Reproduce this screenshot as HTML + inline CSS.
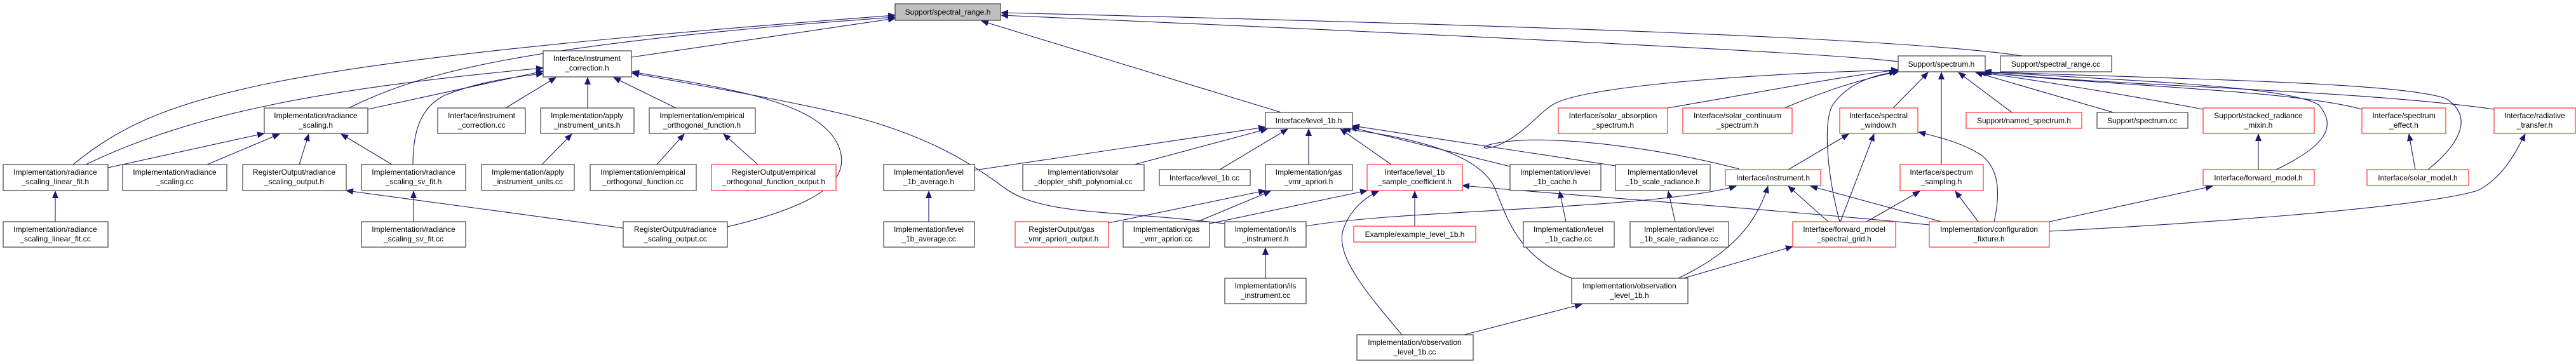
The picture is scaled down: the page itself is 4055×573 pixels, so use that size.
<!DOCTYPE html>
<html><head><meta charset="utf-8"><style>
html,body{margin:0;padding:0;background:#fff;}
svg{display:block;}
text{font-family:"Liberation Sans",sans-serif;font-size:12px;fill:#000;text-anchor:middle;}
.n{fill:#fff;stroke:#404040;stroke-width:1.2;}
.r{fill:#fff;stroke:#ff3030;stroke-width:1.2;}
.g{fill:#bfbfbf;stroke:#404040;stroke-width:1.2;}
path{fill:none;stroke:#191970;stroke-width:1.1;}
</style></head><body>
<svg width="4055" height="573" viewBox="0 0 4055 573" xmlns="http://www.w3.org/2000/svg">
<defs><marker id="a" markerWidth="12" markerHeight="10" refX="11" refY="5" orient="auto" markerUnits="userSpaceOnUse"><polygon points="0,0 12,5 0,10" fill="#191970"/></marker></defs>
<g marker-end="url(#a)">
<path d="M115,259 C250,150 400,100 1409,24"/>
<path d="M135,259 C300,180 500,140 855,107"/>
<path d="M170,264 L416,210"/>
<path d="M549,170 C650,120 800,70 1409,27"/>
<path d="M579,172 L855,112"/>
<path d="M650,259 C650,210 660,170 700,150 C750,130 800,122 855,116"/>
<path d="M326,259 L440,211"/>
<path d="M471,259 L486,211"/>
<path d="M617,259 L537,211"/>
<path d="M87,349 L87,301"/>
<path d="M651,349 L651,301"/>
<path d="M981,359 L545,300"/>
<path d="M1145,357 C1300,320 1340,280 1320,230 C1290,160 1150,140 995,113"/>
<path d="M796,170 L875,122"/>
<path d="M925,170 L925,122"/>
<path d="M1064,170 L966,122"/>
<path d="M853,259 L900,211"/>
<path d="M1034,259 L1077,211"/>
<path d="M1193,259 L1139,211"/>
<path d="M1928,352 C1750,330 1640,340 1580,295 C1520,250 1450,210 1330,180 C1200,150 1100,135 995,115"/>
<path d="M994,90 L1409,29"/>
<path d="M2017,177 L1545,33"/>
<path d="M3183,88 C3000,60 2400,40 1576,20"/>
<path d="M2988,97 C2900,85 2400,60 1576,24"/>
<path d="M1534,268 L1992,200"/>
<path d="M1786,259 L1995,203"/>
<path d="M1920,267 L2027,203"/>
<path d="M2060,259 L2060,203"/>
<path d="M2190,259 L2110,203"/>
<path d="M2377,262 L2125,200"/>
<path d="M2543,261 L2129,198"/>
<path d="M2474,438 C2380,400 2370,330 2350,290 C2320,240 2220,215 2115,203"/>
<path d="M1462,349 L1462,301"/>
<path d="M1745,351 L1992,300"/>
<path d="M1885,349 L2000,301"/>
<path d="M2056,356 C2200,330 2600,330 2733,293"/>
<path d="M1904,352 L2152,300"/>
<path d="M2227,356 L2227,301"/>
<path d="M2207,527 C2150,460 2100,400 2115,360 C2125,330 2150,310 2170,301"/>
<path d="M2305,527 L2490,479"/>
<path d="M3037,354 C2800,330 2500,310 2302,292"/>
<path d="M2465,349 L2455,301"/>
<path d="M2637,349 L2626,301"/>
<path d="M2642,438 C2700,410 2760,370 2783,293"/>
<path d="M2640,441 L2822,388"/>
<path d="M2815,267 L2910,211"/>
<path d="M2738,266 C2600,230 2450,215 2380,222 C2320,228 2330,240 2360,228 C2400,210 2420,180 2444,165 C2480,140 2700,118 2988,110"/>
<path d="M2878,349 L2815,293"/>
<path d="M2897,349 L2950,211"/>
<path d="M2938,349 L3022,301"/>
<path d="M2896,349 C2875,270 2870,190 2885,165 C2910,130 2950,118 2985,113"/>
<path d="M3056,349 L2850,293"/>
<path d="M3114,349 L3078,301"/>
<path d="M3139,349 C3150,300 3145,265 3120,245 C3090,225 3050,215 3020,208"/>
<path d="M3226,349 L3483,293"/>
<path d="M3226,364 C3400,355 3800,330 3900,300 C3940,280 3960,240 3975,211"/>
<path d="M2980,170 L3035,114"/>
<path d="M3056,259 L3056,114"/>
<path d="M3167,177 L3083,114"/>
<path d="M3327,177 L3110,114"/>
<path d="M3468,172 C3350,150 3200,125 3115,114"/>
<path d="M3718,172 C3600,140 3300,135 3118,113"/>
<path d="M3926,172 C3700,140 3300,135 3120,113"/>
<path d="M3583,267 C3660,230 3680,200 3650,165 C3600,135 3350,127 3122,113"/>
<path d="M3822,267 C3880,220 3890,180 3850,155 C3780,130 3450,125 3124,113"/>
<path d="M2625,170 C2800,140 2900,120 2988,110"/>
<path d="M2809,170 C2880,140 2930,125 2990,112"/>
<path d="M3555,267 L3555,211"/>
<path d="M3802,267 L3792,211"/>
<path d="M1992,438 L1992,390"/>
</g>
<g>
<rect class="g" x="1409" y="6" width="166" height="26"/><text x="1492" y="23">Support/spectral_range.h</text>
<rect class="n" x="855" y="80" width="139" height="41"/><text x="924" y="96">Interface/instrument</text><text x="924" y="111">_correction.h</text>
<rect class="n" x="2988" y="88" width="137" height="25"/><text x="3056" y="105">Support/spectrum.h</text>
<rect class="n" x="3149" y="88" width="175" height="25"/><text x="3236" y="105">Support/spectral_range.cc</text>
<rect class="n" x="416" y="170" width="163" height="40"/><text x="497" y="186">Implementation/radiance</text><text x="497" y="201">_scaling.h</text>
<rect class="n" x="689" y="170" width="138" height="40"/><text x="758" y="186">Interface/instrument</text><text x="758" y="201">_correction.cc</text>
<rect class="n" x="851" y="170" width="147" height="40"/><text x="924" y="186">Implementation/apply</text><text x="924" y="201">_instrument_units.h</text>
<rect class="n" x="1022" y="170" width="167" height="40"/><text x="1105" y="186">Implementation/empirical</text><text x="1105" y="201">_orthogonal_function.h</text>
<rect class="n" x="1992" y="177" width="137" height="25"/><text x="2060" y="194">Interface/level_1b.h</text>
<rect class="r" x="2453" y="170" width="172" height="40"/><text x="2539" y="186">Interface/solar_absorption</text><text x="2539" y="201">_spectrum.h</text>
<rect class="r" x="2649" y="170" width="172" height="40"/><text x="2735" y="186">Interface/solar_continuum</text><text x="2735" y="201">_spectrum.h</text>
<rect class="r" x="2896" y="170" width="123" height="40"/><text x="2957" y="186">Interface/spectral</text><text x="2957" y="201">_window.h</text>
<rect class="r" x="3095" y="177" width="182" height="25"/><text x="3186" y="194">Support/named_spectrum.h</text>
<rect class="n" x="3301" y="177" width="143" height="25"/><text x="3372" y="194">Support/spectrum.cc</text>
<rect class="r" x="3468" y="170" width="175" height="40"/><text x="3555" y="186">Support/stacked_radiance</text><text x="3555" y="201">_mixin.h</text>
<rect class="r" x="3718" y="170" width="132" height="40"/><text x="3784" y="186">Interface/spectrum</text><text x="3784" y="201">_effect.h</text>
<rect class="r" x="3926" y="170" width="128" height="40"/><text x="3990" y="186">Interface/radiative</text><text x="3990" y="201">_transfer.h</text>

<rect class="n" x="5" y="259" width="165" height="41"/><text x="87" y="275">Implementation/radiance</text><text x="87" y="290">_scaling_linear_fit.h</text>
<rect class="n" x="193" y="259" width="164" height="41"/><text x="275" y="275">Implementation/radiance</text><text x="275" y="290">_scaling.cc</text>
<rect class="n" x="382" y="259" width="163" height="41"/><text x="463" y="275">RegisterOutput/radiance</text><text x="463" y="290">_scaling_output.h</text>
<rect class="n" x="569" y="259" width="164" height="41"/><text x="651" y="275">Implementation/radiance</text><text x="651" y="290">_scaling_sv_fit.h</text>
<rect class="n" x="758" y="259" width="146" height="41"/><text x="831" y="275">Implementation/apply</text><text x="831" y="290">_instrument_units.cc</text>
<rect class="n" x="929" y="259" width="167" height="41"/><text x="1012" y="275">Implementation/empirical</text><text x="1012" y="290">_orthogonal_function.cc</text>
<rect class="r" x="1120" y="259" width="196" height="41"/><text x="1218" y="275">RegisterOutput/empirical</text><text x="1218" y="290">_orthogonal_function_output.h</text>
<rect class="n" x="1391" y="259" width="143" height="41"/><text x="1462" y="275">Implementation/level</text><text x="1462" y="290">_1b_average.h</text>
<rect class="n" x="1610" y="259" width="191" height="41"/><text x="1705" y="275">Implementation/solar</text><text x="1705" y="290">_doppler_shift_polynomial.cc</text>
<rect class="n" x="1825" y="267" width="143" height="25"/><text x="1896" y="284">Interface/level_1b.cc</text>
<rect class="n" x="1992" y="259" width="137" height="41"/><text x="2060" y="275">Implementation/gas</text><text x="2060" y="290">_vmr_apriori.h</text>
<rect class="r" x="2152" y="259" width="150" height="41"/><text x="2227" y="275">Interface/level_1b</text><text x="2227" y="290">_sample_coefficient.h</text>
<rect class="n" x="2377" y="259" width="143" height="41"/><text x="2448" y="275">Implementation/level</text><text x="2448" y="290">_1b_cache.h</text>
<rect class="n" x="2543" y="259" width="149" height="41"/><text x="2617" y="275">Implementation/level</text><text x="2617" y="290">_1b_scale_radiance.h</text>
<rect class="r" x="2716" y="267" width="150" height="25"/><text x="2791" y="284">Interface/instrument.h</text>
<rect class="r" x="2991" y="259" width="131" height="41"/><text x="3056" y="275">Interface/spectrum</text><text x="3056" y="290">_sampling.h</text>
<rect class="r" x="3468" y="267" width="175" height="25"/><text x="3555" y="284">Interface/forward_model.h</text>
<rect class="r" x="3726" y="267" width="160" height="25"/><text x="3806" y="284">Interface/solar_model.h</text>

<rect class="n" x="5" y="349" width="165" height="40"/><text x="87" y="365">Implementation/radiance</text><text x="87" y="380">_scaling_linear_fit.cc</text>
<rect class="n" x="569" y="349" width="164" height="40"/><text x="651" y="365">Implementation/radiance</text><text x="651" y="380">_scaling_sv_fit.cc</text>
<rect class="n" x="981" y="349" width="164" height="40"/><text x="1063" y="365">RegisterOutput/radiance</text><text x="1063" y="380">_scaling_output.cc</text>
<rect class="n" x="1391" y="349" width="143" height="40"/><text x="1462" y="365">Implementation/level</text><text x="1462" y="380">_1b_average.cc</text>
<rect class="r" x="1598" y="349" width="147" height="40"/><text x="1671" y="365">RegisterOutput/gas</text><text x="1671" y="380">_vmr_apriori_output.h</text>
<rect class="n" x="1768" y="349" width="136" height="40"/><text x="1836" y="365">Implementation/gas</text><text x="1836" y="380">_vmr_apriori.cc</text>
<rect class="n" x="1928" y="349" width="128" height="40"/><text x="1992" y="365">Implementation/ils</text><text x="1992" y="380">_instrument.h</text>
<rect class="r" x="2131" y="356" width="192" height="25"/><text x="2227" y="373">Example/example_level_1b.h</text>
<rect class="n" x="2398" y="349" width="143" height="40"/><text x="2469" y="365">Implementation/level</text><text x="2469" y="380">_1b_cache.cc</text>
<rect class="n" x="2566" y="349" width="155" height="40"/><text x="2643" y="365">Implementation/level</text><text x="2643" y="380">_1b_scale_radiance.cc</text>
<rect class="r" x="2822" y="349" width="162" height="40"/><text x="2903" y="365">Interface/forward_model</text><text x="2903" y="380">_spectral_grid.h</text>
<rect class="r" x="3037" y="349" width="189" height="40"/><text x="3131" y="365">Implementation/configuration</text><text x="3131" y="380">_fixture.h</text>

<rect class="n" x="1928" y="438" width="128" height="40"/><text x="1992" y="454">Implementation/ils</text><text x="1992" y="469">_instrument.cc</text>
<rect class="n" x="2474" y="438" width="183" height="40"/><text x="2565" y="454">Implementation/observation</text><text x="2565" y="469">_level_1b.h</text>
<rect class="n" x="2136" y="527" width="183" height="40"/><text x="2227" y="543">Implementation/observation</text><text x="2227" y="558">_level_1b.cc</text>
</g>
</svg>
</body></html>
